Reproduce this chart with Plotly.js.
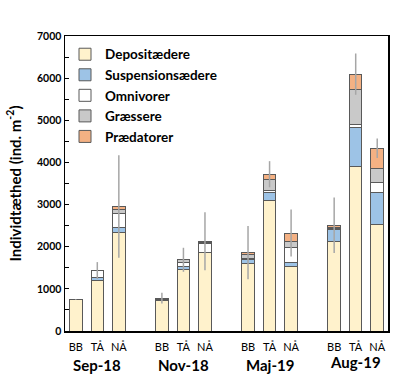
<!DOCTYPE html>
<html><head><meta charset="utf-8">
<script src="https://cdn.plot.ly/plotly-3.0.1.min.js"></script>
<style>html,body{margin:0;padding:0;background:#fff}#c{width:404px;height:383px}</style>
</head><body><div id="c"></div>
<script>
const groups = ['Sep-18','Nov-18','Maj-19','Aug-19'];
const sites = ['BB','TÅ','NÅ'];
const xpos = [0,1,2, 4,5,6, 8,9,10, 12,13,14];
const siteLabels = ['BB','TÅ','NÅ','BB','TÅ','NÅ','BB','TÅ','NÅ','BB','TÅ','NÅ'];
const groupCenters = [1,5,9,13];

const depositaedere   = [750,1210,2335, 720,1465,1855, 1600,3100,1525, 2115,3910,2525];
const suspensionsaedere = [0,  65, 130,  20,  75,   10,   90, 180, 105,  295, 920, 755];
const omnivorer       = [0, 150, 320,  20,  90,  205,   30,  60, 360,   30,  70, 250];
const graessere       = [0,  5,   95,   10,  60,   40,  100, 260, 135,   20, 820, 330];
const praedatorer     = [0,  5,   75,   10,   0,   20,   40, 120, 200,   50, 375, 475];
const errors          = [10, 200, 1215, 130, 285, 690, 630, 310, 560, 660, 490, 230];

const names = ['Depositædere','Suspensionsædere','Omnivorer','Græssere','Prædatorer'];
const series = [depositaedere, suspensionsaedere, omnivorer, graessere, praedatorer];
const colors = ['#FFF2CC','#9DC3E6','#FFFFFF','#C9C9C9','#F4B183'];

const totals = xpos.map((_,i)=>series.reduce((s,a)=>s+a[i],0));

const traces = series.map((vals,k)=>({
  type:'bar', x:xpos, y:vals, name:names[k], legendgroup:'g'+k,
  marker:{color:colors[k], line:{color:'#595959', width:1}},
  width:0.58, hoverinfo:'skip'
}));
traces.push({
  type:'scatter', mode:'markers', x:xpos, y:totals, showlegend:false,
  marker:{opacity:0, size:1},
  error_y:{type:'data', array:errors, visible:true, color:'#A6A6A6', thickness:1.5, width:0}
});

const groupShift = [-45,-45,-45,-42];
const annotations = groups.map((g,i)=>({
  x:groupCenters[i], y:0, xref:'x', yref:'paper', yshift:groupShift[i], text:'<b>'+g+'</b>',
  showarrow:false, font:{family:'Lato, "Open Sans", sans-serif', size:15, color:'#000'}
}));

const layout = {
  width:404, height:383,
  margin:{l:65, r:16, t:36, b:52, pad:0},
  paper_bgcolor:'#fff', plot_bgcolor:'#fff',
  barmode:'stack', bargap:0,
  showlegend:true,
  legend:{x:0.0, y:0.99, xanchor:'left', yanchor:'top', traceorder:'normal', tracegroupgap:6,
    font:{family:'Lato, "Open Sans", sans-serif', size:13.5, color:'#000', weight:'bold'},
    bgcolor:'rgba(0,0,0,0)', itemwidth:30},
  xaxis:{range:[-0.5,14.5], tickvals:xpos, ticktext:siteLabels, ticks:'', showgrid:false, zeroline:false,
    showline:true, linecolor:'#000', linewidth:1.5, mirror:true, ticklabelstandoff:5,
    tickfont:{family:'Lato, "Open Sans", sans-serif', size:11, color:'#000'}},
  yaxis:{range:[0,7000], dtick:1000, ticks:'inside', ticklen:4, tickcolor:'#000', showgrid:false, zeroline:false,
    showline:true, linecolor:'#000', linewidth:1.5, mirror:true,
    minor:{dtick:500, ticks:'inside', ticklen:4, tickcolor:'#000'},
    tickfont:{family:'Lato, "Open Sans", sans-serif', size:10.5, color:'#000', weight:'bold'},
    title:{text:'<b>Individtæthed (ind. m<sup>-2</sup>)</b>', standoff:12,
      font:{family:'Lato, "Open Sans", sans-serif', size:15, color:'#000'}}},
  annotations:annotations
};
Plotly.newPlot('c', traces, layout, {staticPlot:true, displayModeBar:false});
</script></body></html>
